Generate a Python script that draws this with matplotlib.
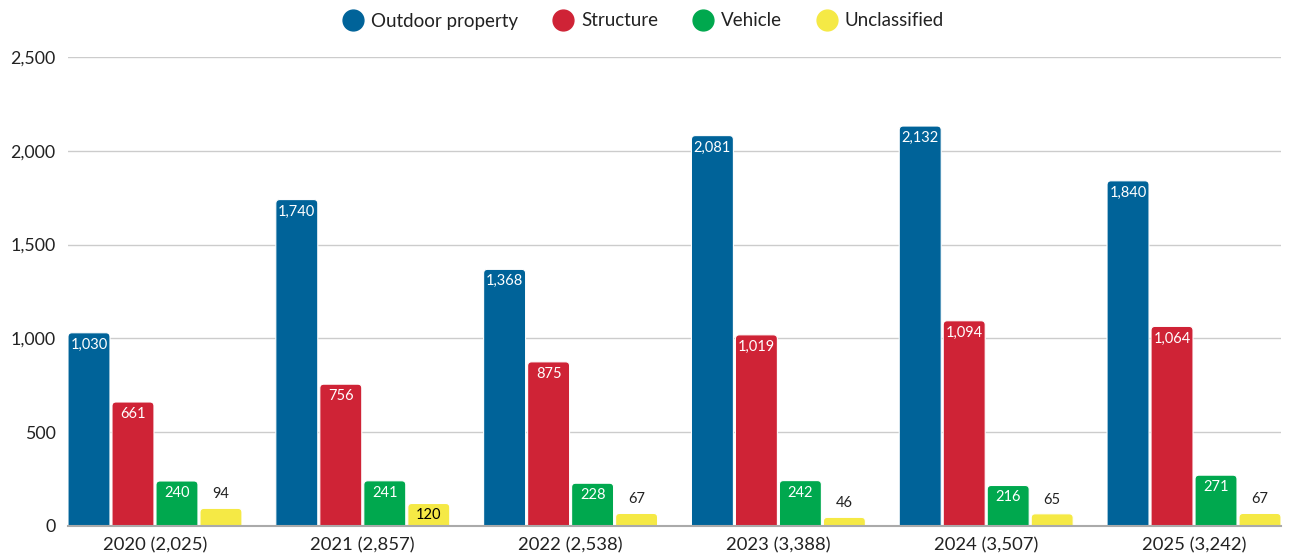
import matplotlib
matplotlib.use("Agg")
import matplotlib.pyplot as plt
from matplotlib.patches import FancyBboxPatch
from matplotlib.lines import Line2D
from matplotlib.ticker import FuncFormatter
import numpy as np

categories = ["2020 (2,025)", "2021 (2,857)", "2022 (2,538)", "2023 (3,388)", "2024 (3,507)", "2025 (3,242)"]
series_names = ["Outdoor property", "Structure", "Vehicle", "Unclassified"]
outdoor = [1030, 1740, 1368, 2081, 2132, 1840]
structure = [661, 756, 875, 1019, 1094, 1064]
vehicle = [240, 241, 228, 242, 216, 271]
unclassified = [94, 120, 67, 46, 65, 67]
colors = ["#006399", "#cf2336", "#00a84e", "#f5e945"]
label_colors = ["white", "white", "white", "black"]
yticks = [0, 500, 1000, 1500, 2000, 2500]

plt.rcParams['font.family'] = ['Lato', 'DejaVu Sans']

W, H = 1289, 555
fig = plt.figure(figsize=(W/100, H/100), dpi=100)
left, right, bottom, top = 68, 1281, 29, 57
ax = fig.add_axes([left/W, bottom/H, (right-left)/W, (H-bottom-top)/H])

step = 0.2117
width = 0.202
x = np.arange(len(categories))
xmin = -1.5*step - width/2
xmax = len(categories) - 1 + 1.5*step + width/2
ax.set_xlim(xmin, xmax)
ax.set_ylim(0, 2500)

px_per_x = (right-left) / (xmax - xmin)
px_per_y = (H-bottom-top) / 2500
rx = 4 / px_per_x
ry = 4 / px_per_y

all_series = [outdoor, structure, vehicle, unclassified]
for i, vals in enumerate(all_series):
    pos = x + (i - 1.5) * step
    bars = ax.bar(pos, vals, width, color=colors[i])
    for b, v in zip(bars, vals):
        bx, bw, bh = b.get_x(), b.get_width(), b.get_height()
        b.remove()
        p = FancyBboxPatch((bx, -ry*2), bw, bh + ry*2,
                           boxstyle=f"round,pad=0,rounding_size={rx}",
                           mutation_aspect=ry/rx,
                           facecolor=colors[i], edgecolor="white", linewidth=0.8,
                           clip_on=True, zorder=2)
        ax.add_patch(p)
        if v >= 100:
            ax.annotate(f"{v:,}", (bx + bw/2, v), xytext=(0, -12), textcoords="offset pixels",
                        ha="center", va="center", fontsize=10.5, color=label_colors[i], zorder=3)
        else:
            ax.annotate(f"{v:,}", (bx + bw/2, v), xytext=(0, 14), textcoords="offset pixels",
                        ha="center", va="center", fontsize=10.5, color="#222222", zorder=3)

ax.set_xticks(x)
ax.set_xticklabels(categories, fontsize=13.3, color="#222222")
ax.set_yticks(yticks)
ax.yaxis.set_major_formatter(FuncFormatter(lambda v, p: f"{int(v):,}"))
ax.tick_params(axis='y', labelsize=12.8, colors="#222222", length=0, pad=9)
ax.tick_params(axis='x', length=0, pad=8)
ax.grid(axis='y', color="#cccccc", linewidth=1, zorder=0)
ax.set_axisbelow(True)
for s in ["top", "right", "left"]:
    ax.spines[s].set_visible(False)
ax.spines["bottom"].set_color("#aaaaaa")
ax.spines["bottom"].set_linewidth(1.5)
ax.spines["bottom"].set_zorder(4)

handles = [Line2D([0], [0], marker='o', linestyle='None', markersize=15,
                  markerfacecolor=c, markeredgecolor=c) for c in colors]
fig.legend(handles, series_names, loc="center", bbox_to_anchor=(0.4995, 1 - 21/H),
           ncol=4, frameon=False, fontsize=13.5, handletextpad=0.45, columnspacing=1.9,
           handlelength=1.0, labelcolor="#222222")

fig.savefig("out.png", dpi=100)
